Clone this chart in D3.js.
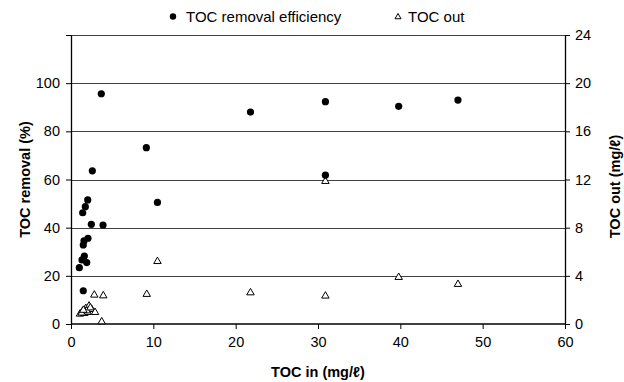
<!DOCTYPE html>
<html>
<head>
<meta charset="utf-8">
<script src="https://cdn.jsdelivr.net/npm/d3@7"></script>
<style>
  html, body { margin: 0; padding: 0; background: #fff; }
  svg { display: block; font-family: "Liberation Sans", Arial, sans-serif; }
</style>
</head>
<body>
<svg id="chart" width="624" height="382"></svg>
<script>
// TOC removal efficiency (%) against influent TOC (mg/ℓ)
const removalIn  = [3.68, 2.59, 2.03, 1.74, 1.42, 2.47, 3.89, 2.06, 1.58, 1.49, 1.62, 1.34, 1.91, 1.01, 1.49,
                    9.15, 10.5, 21.8, 30.9, 30.9, 39.8, 47.0];
const removalPct = [95.6, 63.6, 51.5, 48.7, 46.2, 41.4, 41.1, 35.6, 34.5, 32.8, 28.2, 26.6, 25.5, 23.4, 13.8,
                    73.2, 50.5, 88.0, 92.3, 61.8, 90.4, 93.0];

// Effluent TOC (mg/ℓ) against influent TOC (mg/ℓ)
const outIn  = [3.73, 2.83, 3.92, 1.09, 1.37, 1.62, 1.79, 2.03, 2.19, 2.51, 2.92, 1.30, 1.92, 2.35, 1.50,
                9.2, 10.5, 21.8, 30.9, 30.9, 39.8, 47.0];
const outVal = [0.19, 2.41, 2.35, 0.83, 1.02, 0.89, 1.30, 0.97, 1.50, 1.22, 0.97, 0.92, 1.10, 1.35, 1.15,
                2.47, 5.2, 2.6, 2.33, 11.85, 3.88, 3.3];

const xTicks     = [0, 10, 20, 30, 40, 50, 60];
const leftTicks  = [0, 20, 40, 60, 80, 100, 120];
const rightTicks = [0, 4, 8, 12, 16, 20, 24];

const legendLabels = ["TOC removal efficiency", "TOC out"];
const xTitle = "TOC in (mg/ℓ)";
const leftTitle = "TOC removal (%)";
const rightTitle = "TOC out (mg/ℓ)";

const W = 624, H = 382;
const m = { top: 35, right: 59, bottom: 58, left: 71 };
const iw = W - m.left - m.right;
const ih = H - m.top - m.bottom;

const svg = d3.select("#chart");
const g = svg.append("g").attr("transform", `translate(${m.left},${m.top})`);

const x  = d3.scaleLinear().domain([0, 60]).range([0, iw]);
const yL = d3.scaleLinear().domain([0, 120]).range([ih, 0]);
const yR = d3.scaleLinear().domain([0, 24]).range([ih, 0]);

// horizontal gridlines
g.append("g")
  .selectAll("line")
  .data(leftTicks.filter(d => d > 0))
  .join("line")
  .attr("x1", 0).attr("x2", iw)
  .attr("y1", d => Math.round(yL(d)) + 0.5)
  .attr("y2", d => Math.round(yL(d)) + 0.5)
  .attr("stroke", "#404040")
  .attr("stroke-width", 1);

const fontSize = 14.5;

// axes
const xAxis = g.append("g")
  .attr("transform", `translate(0,${ih})`)
  .call(d3.axisBottom(x).tickValues(xTicks).tickSize(5).tickPadding(8));

const lAxis = g.append("g")
  .call(d3.axisLeft(yL).tickValues(leftTicks).tickSize(5).tickPadding(6)
    .tickFormat(d => d === 120 ? "" : d));

const rAxis = g.append("g")
  .attr("transform", `translate(${iw},0)`)
  .call(d3.axisRight(yR).tickValues(rightTicks).tickSize(5).tickPadding(5));

[xAxis, lAxis, rAxis].forEach(a => {
  a.select(".domain").attr("stroke", "#000").attr("stroke-width", 1.3);
  a.selectAll(".tick line").attr("stroke", "#000");
  a.selectAll("text")
    .attr("fill", "#000")
    .style("font-size", fontSize + "px")
    .style("font-family", "'Liberation Sans', Arial, sans-serif");
});
// keep the domain lines flat (no outer end ticks)
xAxis.select(".domain").attr("d", `M0.5,0H${iw + 0.5}`);
lAxis.select(".domain").attr("d", `M0.5,${ih}V0`);
rAxis.select(".domain").attr("d", `M0.5,${ih}V0`);

// TOC out markers (open triangles)
const tri = d3.symbol(d3.symbolTriangle, 24);
g.append("g")
  .selectAll("path")
  .data(outIn.map((v, i) => [v, outVal[i]]))
  .join("path")
  .attr("d", tri)
  .attr("transform", d => `translate(${x(d[0])},${yR(d[1])})`)
  .attr("fill", "#fff")
  .attr("stroke", "#000")
  .attr("stroke-width", 1);

// TOC removal markers (filled circles)
g.append("g")
  .selectAll("circle")
  .data(removalIn.map((v, i) => [v, removalPct[i]]))
  .join("circle")
  .attr("cx", d => x(d[0]))
  .attr("cy", d => yL(d[1]))
  .attr("r", 3.6)
  .attr("fill", "#000");

// axis titles
svg.append("text")
  .attr("x", m.left + iw / 2)
  .attr("y", 377)
  .attr("text-anchor", "middle")
  .attr("font-weight", "bold")
  .attr("font-size", fontSize)
  .text(xTitle);

svg.append("text")
  .attr("transform", `translate(30,${m.top + ih / 2}) rotate(-90)`)
  .attr("text-anchor", "middle")
  .attr("font-weight", "bold")
  .attr("font-size", fontSize)
  .text(leftTitle);

svg.append("text")
  .attr("transform", `translate(620,${m.top + ih / 2 + 7}) rotate(-90)`)
  .attr("text-anchor", "middle")
  .attr("font-weight", "bold")
  .attr("font-size", fontSize)
  .text(rightTitle);

// legend
const leg = svg.append("g");
leg.append("circle").attr("cx", 173).attr("cy", 16.5).attr("r", 3.2).attr("fill", "#000");
leg.append("text").attr("x", 186).attr("y", 22).attr("font-size", 15).text(legendLabels[0]);
leg.append("path")
  .attr("d", d3.symbol(d3.symbolTriangle, 16))
  .attr("transform", "translate(398,17)")
  .attr("fill", "#fff").attr("stroke", "#000").attr("stroke-width", 1);
leg.append("text").attr("x", 408).attr("y", 22).attr("font-size", 15).text(legendLabels[1]);
</script>
</body>
</html>
